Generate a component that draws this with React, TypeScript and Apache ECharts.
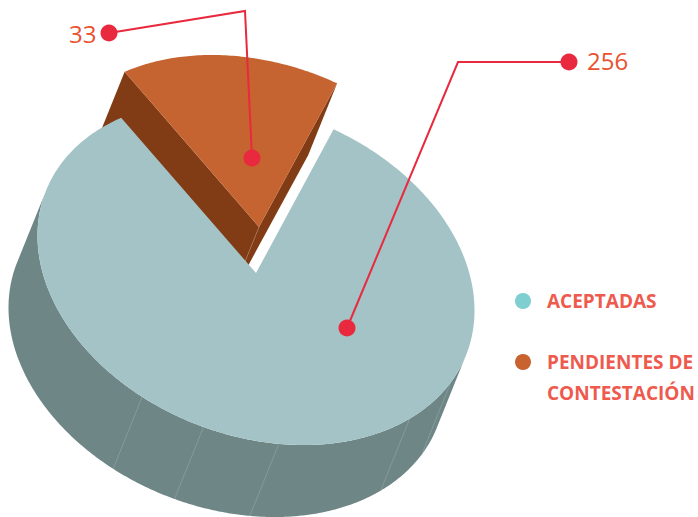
import React, { useEffect, useRef } from "react";
import * as echarts from "echarts";

const categories = ["ACEPTADAS", "PENDIENTES DE CONTESTACIÓN"];
const legendLines = [["ACEPTADAS"], ["PENDIENTES DE", "CONTESTACIÓN"]];
const values = [256, 33];
const topColors = ["#a3c3c6", "#c56430"];
const wallColors = ["#6f8687", "#823c15"];
const legendColors = ["#7fcfd0", "#c8622f"];
const seamAngles = [121.4, 103.9, 84, 45.3, 26.9];

const RED = "#e9293d";
const VALUE_TEXT = "#e9512f";
const LEGEND_TEXT = "#ee5a4e";
const FONT = '"Open Sans", sans-serif';

const RAD = Math.PI / 180;
const CX = 256;
const CY = 273;
const AX = 218.5;
const AY = 37.4;
const BY = 167.9;
const DEPTH_X = -29;
const DEPTH_Y = 72;
const EXPLODE_X = 3.5;
const EXPLODE_Y = -46;
const MID = -98.65;
const WARP = 13.55;

const warp = (deg: number) => deg + WARP * Math.sin(2 * (deg - MID) * RAD);
const rimAt = (t: number, ox = 0, oy = 0): number[] => [
  CX + ox + AX * Math.cos(t * RAD),
  CY + oy + AY * Math.cos(t * RAD) + BY * Math.sin(t * RAD),
];
const rawArc = (from: number, to: number, ox = 0, oy = 0) => {
  const pts: number[][] = [];
  const n = Math.ceil(Math.abs(to - from) * 2);
  for (let i = 0; i <= n; i++) pts.push(rimAt(from + ((to - from) * i) / n, ox, oy));
  return pts;
};
const arc = (from: number, to: number, ox = 0, oy = 0) => {
  const pts: number[][] = [];
  const n = Math.ceil(Math.abs(to - from) * 2);
  for (let i = 0; i <= n; i++) pts.push(rimAt(warp(from + ((to - from) * i) / n), ox, oy));
  return pts;
};

const total = values.reduce((a, b) => a + b, 0);
const pendingSweep = (values[1] / total) * 360;
const pendingFrom = MID - pendingSweep / 2;
const pendingTo = MID + pendingSweep / 2;
const acceptedFrom = pendingTo;
const acceptedTo = acceptedFrom + (values[0] / total) * 360;

// Rim angle at which the rim runs parallel to the extrusion: the silhouette of the side wall.
const tangentAngle = Math.atan2(-DEPTH_X * BY, AX * DEPTH_Y - AY * DEPTH_X) / RAD;

const leader = (points: number[][]) => ({
  type: "polyline",
  shape: { points },
  style: { stroke: RED, lineWidth: 2, fill: "none" },
});
const dot = (cx: number, cy: number, fill = RED, r = 8.5) => ({
  type: "circle",
  shape: { cx, cy, r },
  style: { fill },
});
const valueText = (text: string, x: number, y: number) => ({
  type: "text",
  x,
  y,
  style: { text, fill: VALUE_TEXT, font: `400 24px ${FONT}`, textAlign: "left", textVerticalAlign: "middle" },
});

const renderAccepted = () => {
  const top = arc(acceptedFrom, acceptedTo);
  const wallTop = rawArc(tangentAngle, tangentAngle + 180);
  const wallBottom = rawArc(tangentAngle, tangentAngle + 180, DEPTH_X, DEPTH_Y).reverse();
  const seams = seamAngles.map((t) => {
    const a = rimAt(t);
    const b = rimAt(t, DEPTH_X, DEPTH_Y);
    return {
      type: "line",
      shape: { x1: a[0], y1: a[1], x2: b[0], y2: b[1] },
      style: { stroke: "#93a6a6", lineWidth: 0.6 },
    };
  });
  return {
    type: "group",
    children: [
      { type: "polygon", shape: { points: wallTop.concat(wallBottom) }, style: { fill: wallColors[0] } },
      ...seams,
      { type: "polygon", shape: { points: [[CX, CY], ...top] }, style: { fill: topColors[0] } },
      leader([[569, 62], [458, 62], [347, 328]]),
      dot(569, 62),
      dot(347, 328),
      valueText(String(values[0]), 587, 60),
    ],
  };
};

const renderPending = () => {
  const ex = EXPLODE_X;
  const ey = EXPLODE_Y;
  const apex = [CX + ex - 0.5, CY + ey];
  const apexLow = [apex[0] + DEPTH_X, apex[1] + DEPTH_Y];
  const left = rimAt(warp(pendingFrom), ex, ey);
  const right = rimAt(warp(pendingTo), ex, ey);
  const off = (p: number[]) => [p[0] + DEPTH_X, p[1] + DEPTH_Y];
  return {
    type: "group",
    children: [
      { type: "polygon", shape: { points: [apex, right, off(right), apexLow] }, style: { fill: wallColors[1] } },
      { type: "polygon", shape: { points: [left, apex, apexLow, off(left)] }, style: { fill: wallColors[1] } },
      {
        type: "line",
        shape: { x1: apex[0], y1: apex[1], x2: apexLow[0], y2: apexLow[1] },
        style: { stroke: "#a87a5c", lineWidth: 0.6 },
      },
      {
        type: "polygon",
        shape: { points: [apex, ...arc(pendingFrom, pendingTo, ex, ey)] },
        style: { fill: topColors[1] },
      },
      leader([[109, 33], [245, 11], [252, 158]]),
      dot(109, 33),
      dot(252, 158),
      valueText(String(values[1]), 69, 33),
    ],
  };
};

const legendRows = [301, 362];
const LINE_GAP = 31;

export default function App() {
  const ref = useRef<HTMLDivElement>(null);
  useEffect(() => {
    const chart = echarts.init(ref.current!, undefined, { renderer: "svg" });
    const legendGraphics: any[] = [];
    categories.forEach((_, i) => {
      legendGraphics.push({
        type: "circle",
        shape: { cx: 523, cy: legendRows[i], r: 8 },
        style: { fill: legendColors[i] },
        z: 10,
      });
      legendLines[i].forEach((line, j) => {
        legendGraphics.push({
          type: "text",
          x: 547,
          y: legendRows[i] + j * LINE_GAP,
          style: {
            text: line,
            fill: LEGEND_TEXT,
            font: `700 19px ${FONT}`,
            textAlign: "left",
            textVerticalAlign: "middle",
          },
          z: 10,
        });
      });
    });
    chart.setOption({
      animation: false,
      backgroundColor: "#ffffff",
      graphic: legendGraphics,
      series: [
        {
          type: "custom",
          name: categories[1],
          coordinateSystem: "none",
          data: [values[1]],
          renderItem: renderPending,
          silent: true,
        },
        {
          type: "custom",
          name: categories[0],
          coordinateSystem: "none",
          data: [values[0]],
          renderItem: renderAccepted,
          silent: true,
        },
      ],
    });
    return () => chart.dispose();
  }, []);
  return <div ref={ref} style={{ position: "fixed", left: 0, top: 0, width: 698, height: 517 }} />;
}
